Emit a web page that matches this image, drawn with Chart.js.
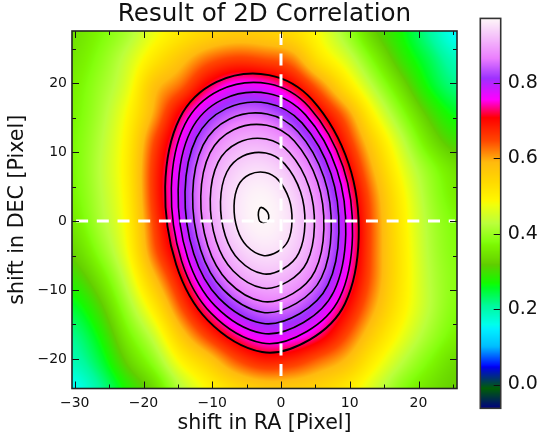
<!DOCTYPE html>
<html><head><meta charset="utf-8">
<script src="https://cdn.jsdelivr.net/npm/chart.js@4/dist/chart.umd.min.js"></script>
<style>html,body{margin:0;padding:0;background:#fff;width:541px;height:442px;overflow:hidden}
canvas{position:absolute;top:0}#main{left:0}#bar{left:470px}</style>
</head><body>
<canvas id="main" width="470" height="442"></canvas>
<canvas id="bar" width="71" height="442"></canvas>
<script>
// Correlation surface (rows top to bottom)
const gridX = [-30.5,-26.5,-22.5,-18.5,-14.5,-10.5,-6.5,-2.5,1.5,5.5,9.5,13.5,17.5,21.5,25.5];
const gridY = [27.5,23.5,19.5,15.5,11.5,7.5,3.5,-0.5,-4.5,-8.5,-12.5,-16.5,-20.5,-24.5];
const row01 = [.34,.37,.41,.47,.515,.545,.56,.555,.535,.48,.405,.325,.27,.21,.15];
const row02 = [.35,.385,.44,.515,.575,.63,.655,.645,.62,.525,.455,.37,.295,.24,.19];
const row03 = [.36,.40,.46,.575,.635,.722,.77,.765,.717,.63,.525,.425,.34,.265,.22];
const row04 = [.365,.41,.485,.60,.72,.803,.845,.845,.802,.718,.62,.49,.39,.31,.26];
const row05 = [.37,.42,.50,.645,.764,.853,.90,.905,.868,.788,.675,.55,.44,.35,.30];
const row06 = [.37,.425,.505,.665,.789,.884,.935,.946,.914,.839,.722,.59,.475,.395,.345];
const row07 = [.365,.42,.50,.665,.795,.894,.951,.967,.94,.87,.759,.62,.50,.41,.36];
const row08 = [.35,.41,.49,.65,.781,.885,.948,.968,.946,.882,.776,.63,.51,.42,.375];
const row09 = [.325,.385,.475,.63,.747,.857,.925,.95,.933,.874,.773,.63,.515,.425,.38];
const row10 = [.29,.345,.44,.575,.70,.809,.882,.912,.90,.846,.75,.625,.515,.43,.385];
const row11 = [.25,.305,.40,.51,.645,.75,.819,.854,.848,.799,.708,.60,.505,.43,.38];
const row12 = [.215,.27,.36,.445,.57,.665,.736,.777,.775,.732,.65,.555,.475,.41,.365];
const row13 = [.19,.24,.32,.39,.49,.56,.635,.675,.665,.625,.58,.50,.43,.375,.335];
const row14 = [.15,.205,.275,.335,.425,.49,.535,.56,.56,.545,.51,.45,.385,.345,.32];
const rows = [row01,row02,row03,row04,row05,row06,row07,row08,row09,row10,row11,row12,row13,row14];

// Contours as [shift RA, shift DEC]
const contour1 = [[11.3,-2.4],[9.85,8.3],[4.55,17.6],[-1.75,21.2],[-9.35,20.2],[-14.75,14.9],[-16.85,5],[-15.25,-6.3],[-10.65,-14.4],[-2.75,-19],[4.2,-17.2],[9.3,-12]];
const contour2 = [[10.4,-2.16],[9.04,7.85],[4.08,16.56],[-1.81,19.93],[-8.93,18.99],[-13.98,14.03],[-15.95,4.76],[-14.45,-5.81],[-10.14,-13.4],[-2.75,-17.7],[3.76,-16.02],[8.53,-11.15]];
const contour3 = [[9.42,-1.9],[8.16,7.36],[3.57,15.42],[-1.88,18.53],[-8.47,17.67],[-13.14,13.08],[-14.96,4.5],[-13.58,-5.28],[-9.59,-12.3],[-2.75,-16.28],[3.27,-14.72],[7.69,-10.22]];
const contour4 = [[8.42,-1.64],[7.27,6.87],[3.05,14.26],[-1.95,17.12],[-8,16.33],[-12.29,12.11],[-13.96,4.24],[-12.69,-4.74],[-9.03,-11.18],[-2.75,-14.84],[2.78,-13.41],[6.83,-9.27]];
const contour5 = [[7.31,-1.35],[6.27,6.31],[2.48,12.97],[-2.03,15.55],[-7.48,14.83],[-11.34,11.04],[-12.85,3.95],[-11.7,-4.14],[-8.41,-9.94],[-2.75,-13.23],[2.23,-11.95],[5.88,-8.22]];
const contour6 = [[6.24,-1.1],[5.31,5.7],[1.94,11.62],[-2.06,13.91],[-6.9,13.27],[-10.33,9.9],[-11.67,3.6],[-10.65,-3.58],[-7.72,-8.74],[-2.7,-11.66],[1.72,-10.52],[4.96,-7.21]];
const contour7 = [[4.86,-.79],[4.08,4.97],[1.23,9.97],[-2.16,11.91],[-6.25,11.37],[-9.16,8.52],[-10.29,3.19],[-9.43,-2.89],[-6.95,-7.25],[-2.7,-9.72],[1.04,-8.75],[3.78,-5.96]];
const contour8 = [[3.48,-.41],[2.84,4.25],[.53,8.31],[-2.21,9.88],[-5.53,9.44],[-7.88,7.13],[-8.8,2.81],[-8.1,-2.11],[-6.09,-5.65],[-2.65,-7.65],[.38,-6.87],[2.6,-4.6]];
const contour9 = [[1.6,-.01],[1.18,3.2],[-.41,5.99],[-2.3,7.07],[-4.58,6.77],[-6.2,5.18],[-6.83,2.21],[-6.35,-1.18],[-4.97,-3.61],[-2.6,-4.99],[-.52,-4.45],[1.02,-2.89]];
const contour10 = [[-1.8,.9],[-2.2,1.6],[-2.9,2.0],[-3.2,1.6],[-3.3,.9],[-3.1,0],[-2.5,-.2],[-1.9,.1]];
const contours = [contour1,contour2,contour3,contour4,contour5,contour6,contour7,contour8,contour9,contour10];

const zeroLineH = [[-29.8,0],[25.3,0]];
const zeroLineV = [[0,-22.5],[0,27.2]];
const colorRange = [-0.063,0.971];

// gist_ncar colour map stops [position, level]
const redStops = [[0,0],[.3098,0],[.3725,.3993],[.4235,.5003],[.5333,1],[.7922,1],[.8471,.6218],[.898,.9235],[1,.9961]];
const greenStops = [[0,0],[.051,.3722],[.1059,0],[.1569,.7202],[.1608,.7537],[.1647,.7752],[.2157,1],[.2588,.9804],[.2706,.9804],[.3176,1],[.3686,.8081],[.4275,1],[.5216,1],[.6314,.7292],[.6863,.2796],[.7451,0],[.7922,0],[.8431,.1753],[.898,.5],[1,.9725]];
const blueStops = [[0,.502],[.051,.0222],[.1098,1],[.2039,1],[.2627,.6145],[.3216,0],[.4157,0],[.4745,.2342],[.5333,0],[.5804,0],[.6314,.0549],[.6902,0],[.7451,0],[.7922,1],[.8431,1],[.898,.9961],[1,.9725]];

function lookup(st,t){
  if(t<=0) return st[0][1]; if(t>=1) return st[st.length-1][1];
  for(let i=1;i<st.length;i++) if(t<=st[i][0]){const a=st[i-1],b=st[i];return a[1]+(b[1]-a[1])*(t-a[0])/(b[0]-a[0]);}
}
function colorOf(v){const t=(v-colorRange[0])/(colorRange[1]-colorRange[0]);
  return [lookup(redStops,t)*255,lookup(greenStops,t)*255,lookup(blueStops,t)*255];}

// Shading between the cells, like imshow's interpolation
function kernel(u,n){
  u=Math.max(0,Math.min(n-1,u));
  const i=Math.min(n-2,Math.floor(u)),f=u-i,f2=f*f,f3=f2*f;
  const w=[-.5*f3+f2-.5*f,1.5*f3-2.5*f2+1,-1.5*f3+2*f2+.5*f,.5*f3-.5*f2];
  const ix=[Math.max(0,i-1),i,i+1,Math.min(n-1,i+2)];
  return {w,ix};
}
const heatPlugin={id:'heat',beforeDatasetsDraw(chart){
  const a=chart.chartArea,X=chart.scales.x,Y=chart.scales.y;
  const w=Math.round(a.right-a.left),h=Math.round(a.bottom-a.top);
  const off=document.createElement('canvas');off.width=w;off.height=h;
  const c=off.getContext('2d'),img=c.createImageData(w,h);
  const kx=[],ky=[];
  for(let i=0;i<w;i++) kx.push(kernel((X.getValueForPixel(a.left+i+.5)-gridX[0])/(gridX[1]-gridX[0]),gridX.length));
  for(let j=0;j<h;j++) ky.push(kernel((Y.getValueForPixel(a.top+j+.5)-gridY[0])/(gridY[1]-gridY[0]),gridY.length));
  let p=0;
  for(let j=0;j<h;j++)for(let i=0;i<w;i++){
    let v=0;const K=kx[i],L=ky[j];
    for(let m=0;m<4;m++){const r=rows[L.ix[m]];for(let n=0;n<4;n++) v+=L.w[m]*K.w[n]*r[K.ix[n]];}
    const col=colorOf(v);img.data[p++]=col[0];img.data[p++]=col[1];img.data[p++]=col[2];img.data[p++]=255;
  }
  c.putImageData(img,0,0);
  chart.ctx.drawImage(off,a.left,a.top);
}};
// Make each contour line a true closed spline, as the radar controller does
const loopPlugin={id:'loops',afterDatasetsUpdate(chart){
  chart.data.datasets.forEach((d,i)=>{
    if(!d.closedLoop) return;
    const el=chart.getDatasetMeta(i).dataset;
    el._loop=true;el._fullLoop=true;el._pointsUpdated=false;
    delete el._segments;delete el._path;
    el.updateControlPoints(chart.chartArea);
  });
}};
function inwardTicks(ctx,scale,a,horizontal){
  scale.ticks.forEach(t=>{
    const major=Math.abs(t.value%10)<1e-6;
    const len=major?7:4,p=Math.round(scale.getPixelForValue(t.value))+.5;
    ctx.beginPath();
    if(horizontal){ctx.moveTo(p,a.top);ctx.lineTo(p,a.top+len);ctx.moveTo(p,a.bottom);ctx.lineTo(p,a.bottom-len);}
    else{ctx.moveTo(a.left,p);ctx.lineTo(a.left+len,p);ctx.moveTo(a.right,p);ctx.lineTo(a.right-len,p);}
    ctx.stroke();
  });
}
const framePlugin={id:'frame',afterDatasetsDraw(chart){
  const ctx=chart.ctx,a=chart.chartArea;
  ctx.save();ctx.strokeStyle='#111';ctx.lineWidth=1;
  inwardTicks(ctx,chart.scales.x,a,true);
  inwardTicks(ctx,chart.scales.y,a,false);
  ctx.lineWidth=1.6;ctx.strokeStyle='#222';
  ctx.strokeRect(a.left,a.top,a.right-a.left,a.bottom-a.top);
  ctx.restore();
}};
const minusFmt=v=>(v%10===0)?String(v).replace('-','\u2212'):'';
const pts=l=>l.map(p=>({x:p[0],y:p[1]}));
const refLine=l=>({data:pts(l),showLine:true,pointRadius:0,borderColor:'#fff',borderWidth:3,borderDash:[12,8.7],tension:0,order:0});
const contourSet=contours.map((l,i)=>({data:pts(l),closedLoop:true,showLine:true,pointRadius:0,borderColor:'#000',borderWidth:i===0?1.9:1.6,tension:.35,order:1}));
const FONT='"DejaVu Sans"';
new Chart(document.getElementById('main'),{
  type:'scatter',
  data:{datasets:[refLine(zeroLineH),refLine(zeroLineV),...contourSet]},
  options:{responsive:false,animation:false,events:[],
    layout:{padding:{right:13,left:0,top:0,bottom:0}},
    plugins:{legend:{display:false},tooltip:{enabled:false},
      title:{display:true,text:'Result of 2D Correlation',fullSize:false,color:'#111',font:{family:FONT,size:24.6,weight:'normal',lineHeight:'25px'},padding:{top:2,bottom:4}}},
    scales:{
      x:{type:'linear',min:-30.4,max:25.6,grid:{display:false,drawTicks:false},border:{display:false},
        afterFit(s){s.height=53.5;},
        ticks:{stepSize:5,includeBounds:false,autoSkip:false,maxRotation:0,callback:minusFmt,color:'#111',font:{family:FONT,size:14},padding:6},
        title:{display:true,text:'shift in RA [Pixel]',color:'#111',font:{family:FONT,size:20.6},padding:{top:0,bottom:5.5}}},
      y:{type:'linear',min:-24.3,max:27.6,grid:{display:false,drawTicks:false},border:{display:false},
        afterFit(s){s.width=72;},
        ticks:{stepSize:5,includeBounds:false,autoSkip:false,callback:minusFmt,color:'#111',font:{family:FONT,size:14},padding:5},
        title:{display:true,text:'shift in DEC [Pixel]',color:'#111',font:{family:FONT,size:20.6},padding:{top:5,bottom:0}}}
    }},
  plugins:[heatPlugin,framePlugin,loopPlugin]
});
// Colour bar
const barTicks=[0,0.2,0.4,0.6,0.8];
const barPlugin={id:'bar',beforeDatasetsDraw(chart){
  const a=chart.chartArea,Y=chart.scales.y,ctx=chart.ctx;
  for(let py=Math.floor(a.top);py<a.bottom;py++){
    const c=colorOf(Y.getValueForPixel(py+.5));
    ctx.fillStyle=`rgb(${c[0]|0},${c[1]|0},${c[2]|0})`;ctx.fillRect(a.left,py,a.right-a.left,1);
  }
},afterDatasetsDraw(chart){
  const a=chart.chartArea,ctx=chart.ctx,Y=chart.scales.y;
  ctx.save();ctx.strokeStyle='#111';ctx.lineWidth=1;
  barTicks.forEach(v=>{const p=Math.round(Y.getPixelForValue(v))+.5;ctx.beginPath();ctx.moveTo(a.right-7,p);ctx.lineTo(a.right,p);ctx.stroke();});
  ctx.lineWidth=1.6;ctx.strokeStyle='#333';ctx.strokeRect(a.left,a.top,a.right-a.left,a.bottom-a.top);
  ctx.restore();
}};
new Chart(document.getElementById('bar'),{
  type:'scatter',data:{datasets:[{data:[],pointRadius:0}]},
  options:{responsive:false,animation:false,events:[],
    layout:{padding:{left:10.3,right:0,top:11,bottom:33.7}},
    plugins:{legend:{display:false},tooltip:{enabled:false}},
    scales:{x:{display:false,min:0,max:1},
      y:{position:'right',type:'linear',min:colorRange[0],max:colorRange[1],grid:{display:false,drawTicks:false},border:{display:false},
        afterBuildTicks(s){s.ticks=barTicks.map(v=>({value:v}));},
        afterFit(s){s.width=40.3;},
        ticks:{autoSkip:false,callback:v=>v.toFixed(1),color:'#111',font:{family:FONT,size:19},padding:7}}}},
  plugins:[barPlugin]
});
</script>
</body></html>
